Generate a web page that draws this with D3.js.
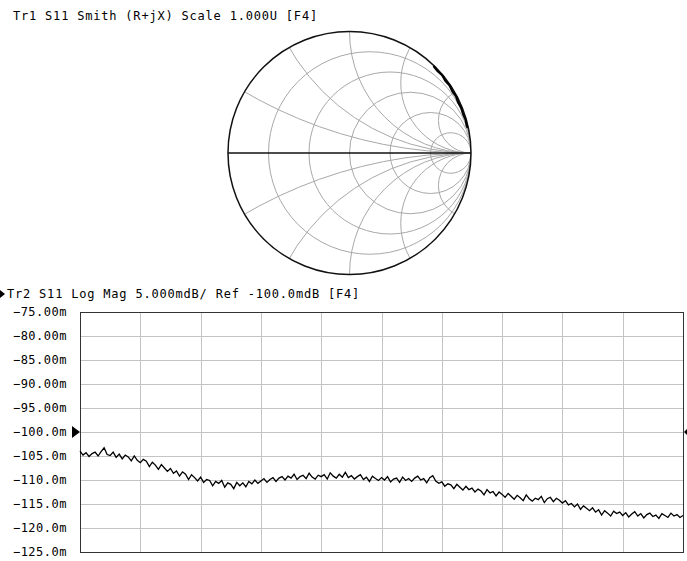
<!DOCTYPE html>
<html>
<head>
<meta charset="utf-8">
<script src="https://cdn.jsdelivr.net/npm/d3@7"></script>
<style>
  body { margin: 0; background: #fff; }
  svg { display: block; }
  text { font-family: "DejaVu Sans Mono", monospace; fill: #000; }
</style>
</head>
<body>
<div id="chart"></div>
<script>
// Smith chart grid values
const resistances = [0.2, 0.5, 1, 2, 5];
const reactances = [0.27, 0.58, 1, 1.73, 3.73];

// Tr1 trace near the unit circle (magnitude, angle in degrees)
const smithMag = [0.995, 0.99, 0.996, 0.988, 0.994, 0.987, 0.993, 0.986, 0.992, 0.988, 0.994, 0.99, 0.995];
const smithDeg = [46, 43, 40, 37, 34, 31, 28, 25, 22, 19, 16, 13, 12];

// Tr2 log mag trace (mdB), 201 points across the sweep
const logMag = [
  -104.0, -104.8, -104.3, -105.1, -104.5, -104.2, -105.0, -104.1, -103.3, -104.7,
  -104.9, -104.2, -105.3, -104.6, -105.6, -104.8, -105.2, -106.0, -105.0, -105.9,
  -106.4, -105.7, -106.1, -107.2, -106.3, -106.9, -107.8, -106.8, -107.5, -108.2,
  -107.6, -108.6, -108.1, -109.2, -108.3, -108.8, -109.9, -108.9, -109.5, -110.2,
  -109.4, -110.5, -109.9, -110.1, -111.2, -110.3, -110.7, -110.1, -111.5, -110.6,
  -110.9, -111.8, -110.5, -111.2, -110.6, -111.4, -110.3, -110.8, -110.0, -110.7,
  -110.2, -109.7, -110.5, -109.9, -109.5, -110.3, -109.6, -109.3, -110.0, -109.2,
  -109.6, -108.8, -109.9, -109.3, -109.0, -109.7, -108.6, -109.4, -109.8, -109.0,
  -109.3, -108.9, -109.8, -108.5, -109.2, -109.6, -108.8, -109.4, -108.4, -109.5,
  -109.1, -109.8, -109.3, -108.9, -109.9, -109.4, -110.3, -109.2, -109.7, -110.1,
  -109.5, -110.0, -109.3, -110.4, -109.8, -109.6, -110.5, -109.4, -110.1, -109.7,
  -110.3, -109.6, -109.2, -110.0, -109.7, -110.6, -109.5, -109.1, -110.2, -110.7,
  -110.4, -111.3, -110.8, -111.0, -111.8, -110.9, -111.5, -112.1, -111.3, -112.0,
  -111.7, -112.5, -111.9, -112.3, -113.1, -112.0, -112.7, -112.4, -113.3, -112.5,
  -113.0, -113.6, -112.8, -113.4, -114.0, -113.2, -113.7, -114.3, -113.1, -113.9,
  -114.4, -113.8, -114.1, -113.4, -114.7, -113.9, -113.6, -114.5, -113.8, -114.2,
  -114.8, -114.3, -115.2, -114.9, -115.6, -115.0, -116.1, -115.4, -115.9, -116.4,
  -115.8, -116.7, -116.2, -117.3, -116.4, -116.9, -117.5, -116.5, -117.0, -116.7,
  -117.4, -116.8, -117.7, -117.1, -116.6, -117.5, -117.0, -117.9, -117.2, -116.9,
  -117.6, -117.3, -118.0, -117.0, -117.4, -117.8, -116.9, -117.5, -117.2, -117.8,
  -117.4
];
const yTicks = [-75, -80, -85, -90, -95, -100, -105, -110, -115, -120, -125];
const refLevel = -100;
const xDivisions = 10;

const width = 687, height = 561;
const svg = d3.select("#chart").append("svg")
  .attr("width", width)
  .attr("height", height);

// ---------- Tr1 Smith chart ----------
svg.append("text")
  .attr("x", 13).attr("y", 20)
  .style("font-size", "12px")
  .style("letter-spacing", "0.8px")
  .text("Tr1 S11 Smith (R+jX) Scale 1.000U [F4]");

const cx = 349.5, cy = 153, R = 121.5;
const gx = d3.scaleLinear().domain([-1, 1]).range([cx - R, cx + R]);
const gy = d3.scaleLinear().domain([-1, 1]).range([cy + R, cy - R]);
const k = R; // pixels per unit of reflection coefficient

svg.append("clipPath").attr("id", "unit")
  .append("circle").attr("cx", gx(0)).attr("cy", gy(0)).attr("r", k);

const grid = svg.append("g").attr("clip-path", "url(#unit)")
  .attr("fill", "none").attr("stroke", "#a8a8a8").attr("stroke-width", 1);

// constant resistance circles
grid.selectAll(".rc").data(resistances).enter().append("circle")
  .attr("cx", r => gx(r / (r + 1)))
  .attr("cy", gy(0))
  .attr("r", r => k / (r + 1));

// constant reactance arcs (both signs)
const xs = reactances.flatMap(x => [x, -x]);
grid.selectAll(".xc").data(xs).enter().append("circle")
  .attr("cx", gx(1))
  .attr("cy", x => gy(1 / x))
  .attr("r", x => k / Math.abs(x));

// outer circle and real axis
svg.append("circle")
  .attr("cx", gx(0)).attr("cy", gy(0)).attr("r", k)
  .attr("fill", "none").attr("stroke", "#111").attr("stroke-width", 1.5);
svg.append("line")
  .attr("x1", gx(-1)).attr("x2", gx(1))
  .attr("y1", gy(0)).attr("y2", gy(0))
  .attr("stroke", "#111").attr("stroke-width", 1.6);

// Tr1 trace
const smithPts = smithMag.map((m, i) => {
  const a = smithDeg[i] * Math.PI / 180;
  return [m * Math.cos(a), m * Math.sin(a)];
});
svg.append("path")
  .datum(smithPts)
  .attr("fill", "none").attr("stroke", "#000").attr("stroke-width", 2.2)
  .attr("d", d3.line().x(d => gx(d[0])).y(d => gy(d[1])));

// ---------- Tr2 Log Mag ----------
svg.append("path")
  .attr("d", "M0,290 L5,294 L0,298 Z")
  .attr("fill", "#000");
svg.append("text")
  .attr("x", 7).attr("y", 298)
  .style("font-size", "12px")
  .style("letter-spacing", "0.8px")
  .text("Tr2 S11 Log Mag 5.000mdB/ Ref -100.0mdB [F4]");

const plotLeft = 80, plotRight = 683, plotTop = 312, plotBottom = 552;
const x = d3.scaleLinear().domain([0, logMag.length - 1]).range([plotLeft, plotRight]);
const y = d3.scaleLinear().domain([-125, -75]).range([plotBottom, plotTop]);
const xDiv = d3.scaleLinear().domain([0, xDivisions]).range([plotLeft, plotRight]);

const plot = svg.append("g");

// horizontal gridlines
plot.selectAll(".hg").data(yTicks.slice(1, -1)).enter().append("line")
  .attr("x1", plotLeft).attr("x2", plotRight)
  .attr("y1", d => Math.round(y(d)) + 0.5).attr("y2", d => Math.round(y(d)) + 0.5)
  .attr("stroke", "#c4c4c4").attr("stroke-width", 1);

// vertical gridlines
plot.selectAll(".vg").data(d3.range(1, xDivisions)).enter().append("line")
  .attr("x1", d => Math.round(xDiv(d)) + 0.5).attr("x2", d => Math.round(xDiv(d)) + 0.5)
  .attr("y1", plotTop).attr("y2", plotBottom)
  .attr("stroke", "#c4c4c4").attr("stroke-width", 1);

// frame
plot.append("rect")
  .attr("x", plotLeft + 0.5).attr("y", plotTop + 0.5)
  .attr("width", plotRight - plotLeft).attr("height", plotBottom - plotTop)
  .attr("fill", "none").attr("stroke", "#333").attr("stroke-width", 1);

// y axis labels
const fmt = d3.format(".4r");
const yAxis = d3.axisLeft(y)
  .tickValues(yTicks)
  .tickSize(0)
  .tickPadding(0)
  .tickFormat(d => fmt(d) + "m");
const ya = svg.append("g")
  .attr("transform", `translate(${plotLeft - 13},0)`)
  .call(yAxis);
ya.select(".domain").remove();
ya.selectAll("text")
  .style("font-family", "DejaVu Sans Mono, monospace")
  .style("font-size", "12px")
  .style("letter-spacing", "0.5px")
  .attr("fill", "#000");

// reference markers
svg.append("path")
  .attr("d", `M${plotLeft - 8},${y(refLevel) - 6} L${plotLeft},${y(refLevel)} L${plotLeft - 8},${y(refLevel) + 6} Z`)
  .attr("fill", "#000");
svg.append("path")
  .attr("d", `M${width},${y(refLevel) - 3} L${width - 3},${y(refLevel)} L${width},${y(refLevel) + 3} Z`)
  .attr("fill", "#000");

// trace
svg.append("path")
  .datum(logMag)
  .attr("fill", "none").attr("stroke", "#000").attr("stroke-width", 1.3)
  .attr("d", d3.line().x((d, i) => x(i)).y(d => y(d)));
</script>
</body>
</html>
